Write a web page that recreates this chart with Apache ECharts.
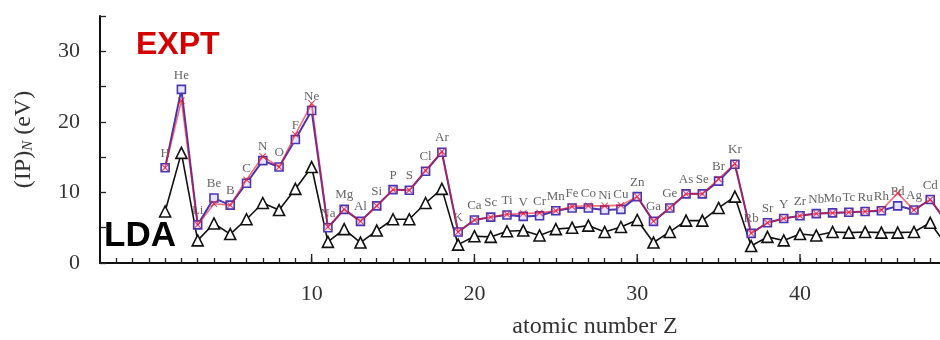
<!DOCTYPE html>
<html>
<head>
<meta charset="utf-8">
<script src="https://cdn.jsdelivr.net/npm/echarts@6/dist/echarts.min.js"></script>
<style>
  html, body { margin: 0; padding: 0; background: #fff; }
  #chart { width: 940px; height: 340px; }
</style>
</head>
<body>
<div id="chart"></div>
<script>
// atomic numbers and element symbols
const Z = [1, 2, 3, 4, 5, 6, 7, 8, 9, 10, 11, 12, 13, 14, 15, 16, 17, 18, 19, 20,
  21, 22, 23, 24, 25, 26, 27, 28, 29, 30, 31, 32, 33, 34, 35, 36, 37, 38, 39, 40,
  41, 42, 43, 44, 45, 46, 47, 48, 49];
const elements = ['H', 'He', 'Li', 'Be', 'B', 'C', 'N', 'O', 'F', 'Ne', 'Na', 'Mg', 'Al', 'Si', 'P', 'S', 'Cl', 'Ar',
  'K', 'Ca', 'Sc', 'Ti', 'V', 'Cr', 'Mn', 'Fe', 'Co', 'Ni', 'Cu', 'Zn', 'Ga', 'Ge', 'As', 'Se', 'Br', 'Kr',
  'Rb', 'Sr', 'Y', 'Zr', 'Nb', 'Mo', 'Tc', 'Ru', 'Rh', 'Pd', 'Ag', 'Cd', 'In'];

// ionization potentials (eV)
const squares = [13.5, 24.6, 5.4, 9.2, 8.2, 11.3, 14.5, 13.6, 17.5, 21.6, 5.0, 7.6, 5.9, 8.1, 10.4, 10.3, 13.0, 15.7,
  4.4, 6.1, 6.5, 6.8, 6.6, 6.7, 7.4, 7.8, 7.8, 7.5, 7.6, 9.4, 5.9, 7.8, 9.8, 9.8, 11.6, 14.0,
  4.2, 5.7, 6.3, 6.7, 7.0, 7.1, 7.2, 7.3, 7.4, 8.1, 7.5, 9.0, 5.8];
const expt = [13.5, 23.0, 5.4, 8.4, 8.2, 11.8, 15.1, 13.6, 18.2, 22.6, 5.1, 7.6, 5.9, 8.1, 10.4, 10.3, 13.1, 15.8,
  4.4, 6.1, 6.5, 6.9, 7.0, 7.1, 7.4, 8.0, 8.1, 8.1, 8.2, 9.4, 5.9, 7.8, 9.8, 9.8, 11.9, 14.1,
  4.2, 5.7, 6.3, 6.7, 7.0, 7.1, 7.2, 7.3, 7.5, 9.9, 7.5, 9.0, 5.8];
const lda = [7.3, 15.6, 3.2, 5.6, 4.1, 6.2, 8.5, 7.5, 10.5, 13.6, 3.0, 4.8, 2.9, 4.6, 6.2, 6.2, 8.5, 10.5,
  2.6, 3.8, 3.7, 4.5, 4.6, 3.9, 4.8, 5.0, 5.3, 4.4, 5.1, 6.1, 2.9, 4.4, 6.0, 6.0, 7.8, 9.4,
  2.4, 3.7, 3.2, 4.1, 3.9, 4.4, 4.3, 4.4, 4.3, 4.3, 4.4, 5.7, 2.5];

// axis labels
const xLabels = [10, 20, 30, 40];
const yLabels = [0, 10, 20, 30];

const serif = '"Liberation Serif", "DejaVu Serif", serif';
const cross = 'path://M0,1L1,0L5,4L9,0L10,1L6,5L10,9L9,10L5,6L1,10L0,9L4,5Z';

const chart = echarts.init(document.getElementById('chart'));

const pairs = (ys) => Z.map((z, i) => [z, ys[i]]);

// longer ticks at the labelled values, pointing up from the axis
const renderMajorTick = (params, api) => {
  const p = api.coord([api.value(0), 0]);
  return {
    type: 'line',
    shape: { x1: p[0], y1: p[1], x2: p[0], y2: p[1] - 9 },
    style: { stroke: '#222', lineWidth: 1.4 }
  };
};

chart.setOption({
  animation: false,
  grid: { left: 100, right: 0, top: 16, bottom: 77, outerBoundsMode: 'none', containLabel: false },
  xAxis: {
    type: 'value',
    min: -3,
    max: 48.6,
    interval: 1,
    name: 'atomic number Z',
    nameLocation: 'middle',
    nameGap: 52,
    nameTextStyle: { fontFamily: serif, fontSize: 24, color: '#333', padding: [0, 0, 0, 150] },
    axisLine: { onZero: false, lineStyle: { color: '#111', width: 2 } },
    axisTick: { show: true, inside: true, length: 5, lineStyle: { color: '#222', width: 1.3 } },
    axisLabel: {
      margin: 20, fontFamily: serif, fontSize: 22, color: '#333', showMinLabel: false, showMaxLabel: false,
      formatter: (v) => (xLabels.indexOf(v) >= 0 ? String(v) : '')
    },
    splitLine: { show: false }
  },
  yAxis: {
    type: 'value',
    min: 0,
    max: 35,
    interval: 5,
    name: '(IP){sub|N} (eV)',
    nameLocation: 'middle',
    nameRotate: 90,
    nameGap: 64,
    nameTextStyle: {
      fontFamily: serif, fontSize: 24, color: '#333',
      rich: { sub: { fontFamily: serif, fontSize: 15, fontStyle: 'italic', color: '#333', verticalAlign: 'bottom', padding: [10, 0, 0, 0] } }
    },
    axisLine: { show: true, onZero: false, lineStyle: { color: '#111', width: 2 } },
    axisTick: { show: true, inside: true, length: 6, lineStyle: { color: '#222', width: 1.3 } },
    axisLabel: {
      margin: 20, fontFamily: serif, fontSize: 22, color: '#333',
      formatter: (v) => (yLabels.indexOf(v) >= 0 ? String(v) : '')
    },
    splitLine: { show: false }
  },
  graphic: [
    {
      type: 'text', left: 136, top: 29,
      style: { text: 'EXPT', fontFamily: '"Liberation Sans", Arial, sans-serif', fontWeight: 'bold', fontSize: 32, fill: '#d40000' }
    },
    {
      type: 'text', left: 104, top: 219,
      style: { text: 'LDA', fontFamily: '"Liberation Sans", Arial, sans-serif', fontWeight: 'bold', fontSize: 35, fill: '#000' }
    }
  ],
  series: [
    {
      name: 'major ticks',
      type: 'custom',
      silent: true,
      clip: false,
      data: xLabels.map((z) => [z, 0]),
      encode: { x: 0, y: 1 },
      renderItem: renderMajorTick,
      z: 5
    },
    {
      name: 'LDA',
      type: 'line',
      data: pairs(lda),
      symbol: 'triangle',
      symbolSize: 11,
      lineStyle: { color: '#111', width: 1.6 },
      itemStyle: { color: '#fff', borderColor: '#111', borderWidth: 1.6 },
      z: 2
    },
    {
      name: 'squares',
      type: 'line',
      data: pairs(squares),
      symbol: 'rect',
      symbolSize: 8,
      lineStyle: { color: '#4a36b0', width: 2 },
      itemStyle: { color: '#e6e4ff', borderColor: '#4a36b0', borderWidth: 1.6 },
      label: {
        show: true,
        position: 'top',
        distance: 3,
        formatter: (p) => elements[p.dataIndex],
        fontFamily: serif,
        fontSize: 13,
        color: '#666'
      },
      z: 3
    },
    {
      name: 'EXPT',
      type: 'line',
      data: pairs(expt),
      symbol: cross,
      symbolSize: 7,
      lineStyle: { color: '#e8102a', width: 1.6, opacity: 0.6 },
      itemStyle: { color: '#e8102a', opacity: 0.8 },
      z: 4
    }
  ]
});
</script>
</body>
</html>
